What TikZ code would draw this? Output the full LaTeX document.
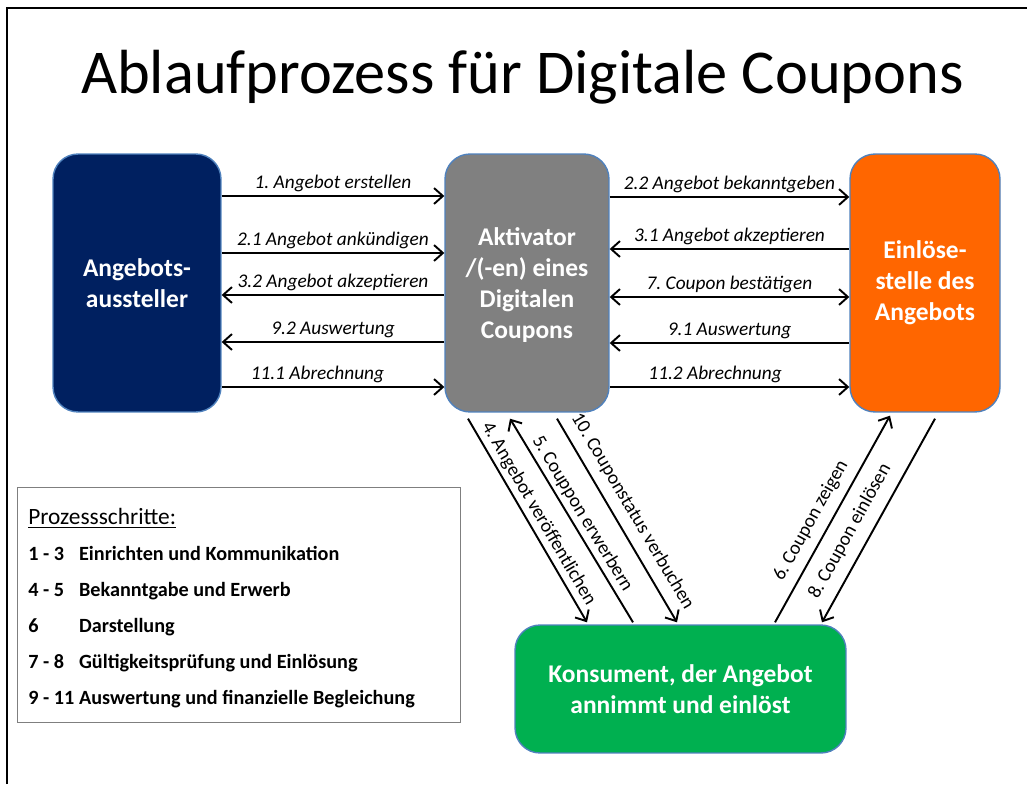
\documentclass[tikz,border=0pt]{standalone}
\usepackage{fontspec}
\setmainfont{Carlito}
\usetikzlibrary{arrows.meta,calc}
\frenchspacing

\definecolor{navy}{HTML}{002060}
\definecolor{midgrey}{HTML}{808080}
\definecolor{signal}{HTML}{FF6600}
\definecolor{leaf}{HTML}{00B050}
\definecolor{edge}{HTML}{4F81BD}
\definecolor{framegrey}{HTML}{7F7F7F}

\begin{document}
\begin{tikzpicture}[x=0.02cm,y=-0.02cm,
  >={Straight Barb[length=5pt,width=9pt]},
  box/.style={rounded corners=0.5cm, draw=edge, line width=0.8pt, text=white,
    align=center, font=\fontsize{14.5}{17.7}\selectfont\bfseries},
  ln/.style={line width=1.1pt},
  lbl/.style={font=\fontsize{11}{13}\selectfont\itshape, inner sep=1pt, above=1pt},
  dlbl/.style={font=\fontsize{11}{13}\selectfont, inner sep=1pt, sloped, above=1pt}]

\useasboundingbox (0,0) rectangle (1027,784);

%% frame
\draw[line width=1.2pt] (7,784) -- (7,8) -- (1027,8);

%% title
\node[font=\fontsize{35.5}{40}\selectfont, anchor=base] (title) at (522.5,93) {Ablaufprozess für Digitale Coupons};

%% boxes
\node[box, fill=navy, minimum width=3.36cm, minimum height=5.16cm] (aus) at (137,283) {Angebots-\\aussteller};
\node[box, fill=midgrey, minimum width=3.28cm, minimum height=5.16cm] (akt) at (527,283) {\strut Aktivator\\/(-en) eines\\Digitalen\\Coupons};
\node[box, fill=signal, minimum width=3.0cm, minimum height=5.16cm] (einl) at (925,283) {Einlöse-\\stelle des\\Angebots};
\node[box, fill=leaf, minimum width=6.62cm, minimum height=2.56cm] (kons) at (680.5,689) {Konsument, der Angebot\\annimmt und einlöst};

%% aussteller -- aktivator
\draw[ln, ->] (aus.east |- 0,196) -- (akt.west |- 0,196) node[lbl, midway] {1. Angebot erstellen};      %% 1.
\draw[ln, ->] (aus.east |- 0,253) -- (akt.west |- 0,253) node[lbl, midway] {2.1 Angebot ankündigen};   %% 2.1
\draw[ln, <-] (aus.east |- 0,295) -- (akt.west |- 0,295) node[lbl, midway] {3.2 Angebot akzeptieren};  %% 3.2
\draw[ln, <-] (aus.east |- 0,342) -- (akt.west |- 0,342) node[lbl, midway] {9.2 Auswertung};          %% 9.2
\draw[ln, ->] (aus.east |- 0,387) -- (akt.west |- 0,387) node[lbl, pos=0.43] {11.1 Abrechnung};        %% 11.1

%% aktivator -- einloesestelle
\draw[ln, ->] (akt.east |- 0,197) -- (einl.west |- 0,197) node[lbl, midway] {2.2 Angebot bekanntgeben}; %% 2.2
\draw[ln, <-] (akt.east |- 0,249) -- (einl.west |- 0,249) node[lbl, midway] {3.1 Angebot akzeptieren};  %% 3.1
\draw[ln, <->] (akt.east |- 0,297) -- (einl.west |- 0,297) node[lbl, midway] {7. Coupon bestätigen};   %% 7.
\draw[ln, <-] (akt.east |- 0,343) -- (einl.west |- 0,343) node[lbl, midway] {9.1 Auswertung};          %% 9.1
\draw[ln, ->] (akt.east |- 0,387) -- (einl.west |- 0,387) node[lbl, pos=0.44] {11.2 Abrechnung};       %% 11.2

%% aktivator -- konsument
\draw[ln, ->] ($(akt.south)+(-59,6)$) -- ($(kons.north)+(-93.5,-2)$) node[dlbl, midway] {4. Angebot veröffentlichen};  %% 4.
\draw[ln, <-] ($(akt.south)+(-17,6)$) -- ($(kons.north)+(-47.5,-2)$) node[dlbl, midway] {5. Couppon erwerbern};       %% 5.
\draw[ln, ->] ($(akt.south)+(30,6)$) -- ($(kons.north)+(-3.5,-2)$) node[dlbl, midway, above=3pt] {10. Couponstatus verbuchen}; %% 10.

%% konsument -- einloesestelle
\draw[ln, ->] ($(kons.north)+(94.5,-2)$) -- ($(einl.south)+(-35,3)$) node[dlbl, pos=0.45, above=3pt] {6. Coupon zeigen};  %% 6.
\draw[ln, <-] ($(kons.north)+(141.5,-2)$) -- ($(einl.south)+(10,6)$) node[dlbl, pos=0.4, above=4pt] {8. Coupon einlösen}; %% 8.

%% legend
\node[draw=framegrey, line width=0.8pt, anchor=north west, minimum width=8.86cm, minimum height=4.7cm, inner sep=0pt] (legend) at (17,487) {};
\node[anchor=west, inner sep=0pt, font=\fontsize{11.5}{14}\selectfont\bfseries] (steps) at (28,607.5) {%
  \renewcommand\arraystretch{1.46}%
  \begin{tabular}{@{}p{28.9pt}@{}l@{}}
    \multicolumn{2}{@{}l@{}}{\fontsize{13.3}{14}\selectfont\mdseries\underline{Prozessschritte:}}\\
    1 - 3 & Einrichten und Kommunikation\\
    4 - 5 & Bekanntgabe und Erwerb\\
    6 & Darstellung\\
    7 - 8 & Gültigkeitsprüfung und Einlösung\\
    9 - 11 & Auswertung und finanzielle Begleichung
  \end{tabular}};

\end{tikzpicture}
\end{document}
